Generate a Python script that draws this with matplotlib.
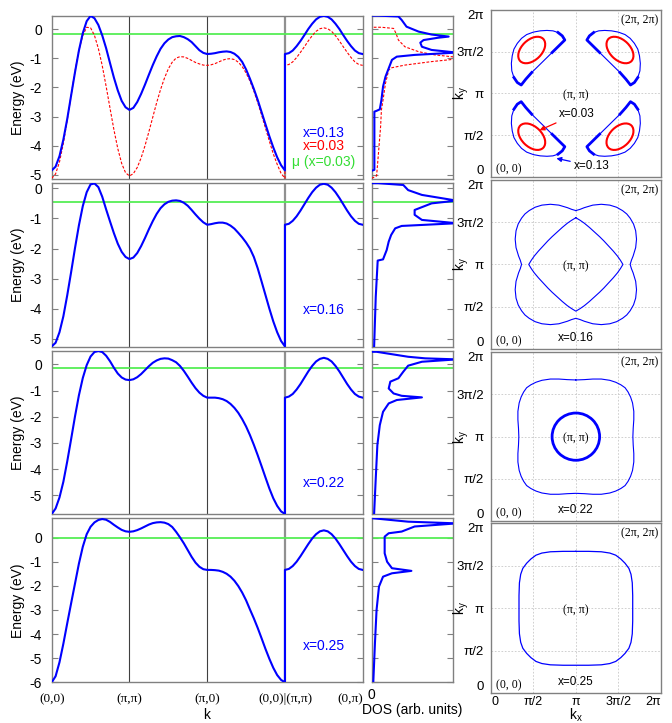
import numpy as np
import matplotlib
matplotlib.use('Agg')
import matplotlib.pyplot as plt
from matplotlib.patches import Ellipse, Circle

plt.rcParams['font.family'] = ['Liberation Sans', 'DejaVu Sans']
plt.rcParams['axes.unicode_minus'] = False
plt.rcParams['mathtext.default'] = 'regular'

SERIF = ['Liberation Serif', 'DejaVu Serif']
BLUE = '#0000ff'
RED = '#ff0000'
GREEN = '#55ee55'
FRAME = '#808080'

# ---- band structure, k path (0,0)->(pi,pi)->(pi,0)->(0,0) | (pi,pi)->(0,pi)
K_MAIN = np.round(np.arange(0, 3.0001, 0.05), 2)
K_SIDE = np.round(np.arange(3.0, 4.0001, 0.05), 2)

E013_MAIN = [-4.85, -4.72, -4.36, -3.79, -3.08, -2.27, -1.47, -0.73, -0.13, 0.28,
             0.46, 0.38, 0.15, -0.21, -0.65, -1.16, -1.66, -2.10, -2.46, -2.68,
             -2.77, -2.70, -2.50, -2.22, -1.90, -1.56, -1.23, -0.93, -0.67, -0.48,
             -0.35, -0.27, -0.24, -0.23, -0.27, -0.34, -0.44, -0.58, -0.72, -0.81,
             -0.85, -0.84, -0.82, -0.79, -0.77, -0.76, -0.78, -0.84, -0.95, -1.12,
             -1.38, -1.70, -2.05, -2.43, -2.85, -3.27, -3.68, -4.06, -4.40, -4.67,
             -4.85]
E013_SIDE = [-0.85, -0.82, -0.73, -0.58, -0.40, -0.20, 0.01, 0.19, 0.34, 0.43, 0.46,
             0.43, 0.34, 0.19, 0.01, -0.20, -0.40, -0.58, -0.73, -0.82, -0.85]

E003_MAIN = [-5.12, -4.97, -4.56, -3.92, -3.12, -2.27, -1.44, -0.72, -0.21, 0.07,
             0.05, -0.21, -0.66, -1.25, -1.96, -2.71, -3.45, -4.10, -4.61, -4.93,
             -5.04, -4.96, -4.75, -4.42, -4.00, -3.52, -3.02, -2.52, -2.07, -1.68,
             -1.36, -1.13, -0.99, -0.94, -0.95, -1.00, -1.07, -1.14, -1.19, -1.23,
             -1.24, -1.22, -1.18, -1.12, -1.06, -1.02, -1.01, -1.04, -1.13, -1.28,
             -1.50, -1.78, -2.12, -2.52, -2.95, -3.40, -3.85, -4.28, -4.64, -4.95,
             -5.12]
E003_SIDE = [-1.24, -1.21, -1.12, -0.97, -0.79, -0.60, -0.40, -0.22, -0.07, 0.02, 0.05,
             0.02, -0.07, -0.22, -0.40, -0.60, -0.79, -0.97, -1.12, -1.21, -1.24]

E016_MAIN = [-5.25, -5.13, -4.78, -4.25, -3.55, -2.78, -1.98, -1.23, -0.59, -0.13,
             0.13, 0.16, 0.04, -0.28, -0.70, -1.10, -1.49, -1.84, -2.11, -2.28,
             -2.35, -2.30, -2.15, -1.92, -1.65, -1.36, -1.09, -0.85, -0.66, -0.53,
             -0.45, -0.41, -0.40, -0.42, -0.48, -0.58, -0.72, -0.87, -1.01, -1.13,
             -1.21, -1.19, -1.16, -1.14, -1.14, -1.17, -1.24, -1.34, -1.48, -1.63,
             -1.80, -2.00, -2.28, -2.66, -3.10, -3.55, -4.00, -4.42, -4.78, -5.07,
             -5.25]
E016_SIDE = [-1.21, -1.18, -1.08, -0.93, -0.74, -0.53, -0.32, -0.13, 0.02, 0.12, 0.15,
             0.12, 0.02, -0.13, -0.32, -0.53, -0.74, -0.93, -1.08, -1.18, -1.21]

E022_MAIN = [-5.71, -5.50, -5.08, -4.48, -3.70, -2.85, -1.98, -1.18, -0.52, -0.03,
             0.30, 0.47, 0.51, 0.47, 0.33, 0.12, -0.13, -0.35, -0.50, -0.58,
             -0.60, -0.57, -0.49, -0.37, -0.22, -0.07, 0.06, 0.15, 0.21, 0.23,
             0.22, 0.16, 0.08, -0.06, -0.25, -0.47, -0.70, -0.91, -1.08, -1.20,
             -1.27, -1.27, -1.27, -1.29, -1.33, -1.40, -1.51, -1.66, -1.85, -2.09,
             -2.37, -2.70, -3.07, -3.47, -3.89, -4.32, -4.74, -5.11, -5.40, -5.61,
             -5.71]
E022_SIDE = [-1.27, -1.23, -1.13, -0.96, -0.75, -0.51, -0.27, -0.06, 0.11, 0.21, 0.25,
             0.21, 0.11, -0.06, -0.27, -0.51, -0.75, -0.96, -1.13, -1.23, -1.27]

E025_MAIN = [-6.00, -5.75, -5.17, -4.40, -3.55, -2.72, -1.90, -1.08, -0.38, 0.14,
             0.45, 0.63, 0.73, 0.77, 0.74, 0.65, 0.53, 0.42, 0.32, 0.26,
             0.24, 0.26, 0.31, 0.38, 0.46, 0.54, 0.60, 0.63, 0.64, 0.62,
             0.56, 0.44, 0.24, 0.01, -0.24, -0.52, -0.80, -1.04, -1.21, -1.31,
             -1.34, -1.34, -1.35, -1.37, -1.42, -1.50, -1.62, -1.79, -2.01, -2.28,
             -2.60, -2.98, -3.35, -3.75, -4.18, -4.62, -5.03, -5.40, -5.70, -5.90,
             -6.00]
E025_SIDE = [-1.34, -1.30, -1.18, -1.00, -0.77, -0.52, -0.27, -0.04, 0.14, 0.26, 0.30,
             0.26, 0.14, -0.04, -0.27, -0.52, -0.77, -1.00, -1.18, -1.30, -1.34]

DOPING = ['x=0.13', 'x=0.16', 'x=0.22', 'x=0.25']
MU = [-0.15, -0.44, -0.15, 0.0]
YLIMS = [(-5.155, 0.457), (-5.26, 0.186), (-5.71, 0.51), (-6.0, 0.80)]
BANDS = [(E013_MAIN, E013_SIDE), (E016_MAIN, E016_SIDE),
         (E022_MAIN, E022_SIDE), (E025_MAIN, E025_SIDE)]
K_LABELS = ['(0,0)', '(\u03c0,\u03c0)', '(\u03c0,0)', '(0,0)|(\u03c0,\u03c0)', '(0,\u03c0)']

# ---- density of states (E in eV, DOS in arb. units)
DOS013_E = [-4.86, -4.83, -2.83, -2.80, -2.75, -2.43, -1.97, -1.63, -1.34, -1.05, -0.94,
            -0.88, -0.80, -0.71, -0.60, -0.46, -0.37, -0.29, -0.25, -0.18, -0.08, 0.09,
            0.32, 0.44, 0.47, 0.47]
DOS013_D = [0.0, 0.033, 0.033, 0.062, 0.10, 0.12, 0.14, 0.17, 0.21, 0.25, 0.31,
            0.53, 1.05, 0.74, 0.62, 0.60, 0.64, 0.82, 0.95, 0.74, 0.58, 0.43,
            0.37, 0.33, 0.08, 0.0]
DOS003_E = [-5.12, -5.04, -4.72, -4.03, -3.34, -2.77, -2.43, -1.86, -1.40, -1.32, -1.23,
            -1.11, -1.02, -0.96, -0.88, -0.77, -0.60, -0.37, -0.14, 0.03, 0.07, 0.07]
DOS003_D = [0.0, 0.06, 0.07, 0.09, 0.11, 0.12, 0.14, 0.17, 0.21, 0.25, 0.41,
            0.74, 1.05, 1.05, 0.78, 0.58, 0.41, 0.33, 0.30, 0.27, 0.12, 0.0]
DOS016_E = [-5.25, -3.60, -2.40, -2.36, -2.05, -1.77, -1.55, -1.33, -1.25, -1.16, -1.05,
            -0.88, -0.72, -0.50, -0.41, -0.22, -0.06, 0.11, 0.17, 0.17]
DOS016_D = [0.03, 0.05, 0.074, 0.14, 0.185, 0.21, 0.24, 0.29, 0.37, 1.05, 0.62,
            0.53, 0.53, 0.74, 1.05, 0.62, 0.45, 0.39, 0.08, 0.0]
DOS022_E = [-5.69, -4.35, -3.08, -2.32, -1.81, -1.49, -1.36, -1.26, -1.20, -1.11, -0.92,
            -0.66, -0.53, -0.28, -0.05, 0.10, 0.19, 0.23, 0.29, 0.48, 0.48]
DOS022_D = [0.03, 0.05, 0.07, 0.10, 0.14, 0.21, 0.31, 0.62, 0.37, 0.27, 0.21,
            0.23, 0.33, 0.39, 0.45, 0.62, 1.05, 0.66, 0.45, 0.06, 0.0]
DOS025_E = [-5.97, -4.38, -3.00, -2.03, -1.62, -1.48, -1.38, -1.27, -1.00, -0.65, 0.04,
            0.18, 0.25, 0.46, 0.59, 0.66, 0.80]
DOS025_D = [0.02, 0.04, 0.06, 0.09, 0.14, 0.25, 0.49, 0.25, 0.19, 0.16, 0.16,
            0.21, 0.37, 0.53, 1.05, 0.45, 0.02]
DOS_BLUE = [(DOS013_E, DOS013_D), (DOS016_E, DOS016_D),
            (DOS022_E, DOS022_D), (DOS025_E, DOS025_D)]

# ---- Fermi surfaces, k in units of pi
# x=0.13 hole pocket around (pi/2, pi/2); the other three are its mirror images
POCKET013_X = [0.356, 0.31, 0.27, 0.245, 0.24, 0.25, 0.27, 0.31, 0.36, 0.42, 0.50,
               0.58, 0.66, 0.73, 0.79, 0.84, 0.87, 0.80, 0.72, 0.64, 0.56, 0.48,
               0.41, 0.356]
POCKET013_Y = [0.90, 0.87, 0.81, 0.73, 0.64, 0.55, 0.47, 0.40, 0.34, 0.295, 0.265,
               0.25, 0.245, 0.25, 0.27, 0.31, 0.36, 0.43, 0.51, 0.59, 0.67, 0.75,
               0.83, 0.90]
# x=0.03 pocket: centre, full axes, tilt (deg)
POCKET003 = (0.48, 0.48, 0.38, 0.24, -45)

# quadrant offsets from (pi, pi), from the ky axis round to the kx axis
FS016_INNER_DX = [0.0, 0.05, 0.10, 0.16, 0.22, 0.28, 0.33, 0.385, 0.44, 0.49, 0.525, 0.555]
FS016_INNER_DY = [0.555, 0.525, 0.49, 0.44, 0.385, 0.33, 0.28, 0.22, 0.16, 0.10, 0.05, 0.0]
FS016_OUTER_DX = [0.0, 0.05, 0.10, 0.20, 0.30, 0.40, 0.48, 0.55, 0.60, 0.64, 0.68, 0.705,
                  0.715, 0.705, 0.675, 0.655, 0.64]
FS016_OUTER_DY = [0.64, 0.655, 0.675, 0.705, 0.715, 0.705, 0.68, 0.64, 0.60, 0.55, 0.48, 0.40,
                  0.30, 0.20, 0.10, 0.05, 0.0]
FS022_INNER_R = 0.28
FS022_OUTER_DX = [0.0, 0.10, 0.20, 0.30, 0.40, 0.47, 0.53, 0.58, 0.615, 0.645, 0.668, 0.683,
                  0.683, 0.676, 0.672]
FS022_OUTER_DY = [0.672, 0.676, 0.683, 0.683, 0.668, 0.645, 0.615, 0.58, 0.53, 0.47, 0.40, 0.30,
                  0.20, 0.10, 0.0]
FS025_DX = [0.0, 0.15, 0.30, 0.40, 0.47, 0.53, 0.58, 0.625, 0.65, 0.665, 0.67, 0.67]
FS025_DY = [0.67, 0.67, 0.665, 0.65, 0.625, 0.58, 0.53, 0.47, 0.40, 0.30, 0.15, 0.0]

PI_TICKS = [0, 0.5, 1, 1.5, 2]
PI_LABELS = ['0', '\u03c0/2', '\u03c0', '3\u03c0/2', '2\u03c0']

W, H = 672, 723
fig = plt.figure(figsize=(W / 100, H / 100), dpi=100)


def add_ax(l, t, r, b):
    return fig.add_axes([l / W, 1 - b / H, (r - l) / W, (b - t) / H])


def frame(ax):
    for s in ax.spines.values():
        s.set_color(FRAME)
        s.set_linewidth(1.0)


def full_loop(dx, dy):
    dx = np.asarray(dx)
    dy = np.asarray(dy)
    x = np.concatenate([dx, dx[::-1], -dx, -dx[::-1]])
    y = np.concatenate([dy, -dy[::-1], -dy, dy[::-1]])
    return 1 + x, 1 + y


def fs_loop(ax, dx, dy, lw=0.8, thick=0.0):
    # closed contour; points close to the kx / ky axes through (pi, pi) drawn heavier
    x, y = full_loop(dx, dy)
    ax.plot(x, y, color=BLUE, lw=lw)
    if thick > 0:
        near = (np.abs(x - 1) < thick) | (np.abs(y - 1) < thick)
        ax.plot(np.ma.masked_where(~near, x), np.ma.masked_where(~near, y),
                color=BLUE, lw=2.2, solid_capstyle='round')


band_rows = [(16, 179.3), (182.7, 346.7), (351, 514), (518.3, 682.3)]
fs_rows = [(10, 176.7), (180.3, 348.6), (352.3, 521), (523.3, 693.3)]

for i in range(4):
    top, bot = band_rows[i]
    lo, hi = YLIMS[i]
    emain, eside = BANDS[i]

    # band dispersion
    ax = add_ax(51.7, top, 362.7, bot)
    frame(ax)
    for kv in (1, 2):
        ax.axvline(kv, color='#404040', lw=0.8, zorder=1)
    ax.axvline(3, color='#909090', lw=1.6, zorder=1)
    ax.axhline(MU[i], color=GREEN, lw=1.3, zorder=2)
    kk = np.concatenate([K_MAIN, K_SIDE])
    if i == 0:
        ax.plot(kk, np.concatenate([E003_MAIN, E003_SIDE]), color=RED, lw=0.8,
                dashes=(2.5, 1.5), zorder=3)
    ax.plot(kk, np.concatenate([emain, eside]), color=BLUE, lw=1.5, zorder=4)
    ax.set_xlim(0, 4)
    ax.set_ylim(lo, hi)
    ax.set_yticks(np.arange(np.ceil(lo), 0.5, 1))
    ax.yaxis.set_major_formatter(plt.FuncFormatter(lambda v, p: '%d' % v))
    ax.tick_params(axis='y', direction='in', length=4, color=FRAME, right=True,
                   labelsize=10, pad=7)
    ax.set_xticks([0, 1, 2, 3, 4])
    ax.tick_params(axis='x', length=0)
    ax.set_ylabel('Energy (eV)', fontsize=10)
    ax.yaxis.set_label_coords(-0.085, 0.5)
    if i == 3:
        ax.set_xticklabels(K_LABELS, family=SERIF, fontsize=9.5)
        lab = ax.get_xticklabels()
        lab[4].set_horizontalalignment('right')
        ax.tick_params(axis='x', pad=8)
    else:
        ax.set_xticklabels([])
    if i == 0:
        ax.text(3.5, -3.55, 'x=0.13', color=BLUE, fontsize=10, ha='center', va='center')
        ax.text(3.5, -4.02, 'x=0.03', color=RED, fontsize=10, ha='center', va='center')
        ax.text(3.5, -4.55, '\u03bc (x=0.03)', color='#33dd33', fontsize=10,
                ha='center', va='center')
    else:
        ty = [None, -4.04, -4.54, -4.48][i]
        ax.text(3.5, ty, DOPING[i], color=BLUE, fontsize=10, ha='center', va='center')

    # density of states
    ad = add_ax(371.7, top, 452.7, bot)
    frame(ad)
    ad.axhline(MU[i], color=GREEN, lw=1.3, zorder=2)
    if i == 0:
        ad.plot(DOS003_D, DOS003_E, color=RED, lw=0.8, dashes=(2.5, 1.5), zorder=3)
    de, dd = DOS_BLUE[i]
    ad.plot(dd, de, color=BLUE, lw=1.5, zorder=4)
    ad.set_xlim(0, 1)
    ad.set_ylim(lo, hi)
    ad.set_yticks(np.arange(np.ceil(lo), 0.5, 1))
    ad.tick_params(axis='y', direction='in', length=4, color=FRAME, right=True,
                   labelleft=False)
    ad.set_xticks([0])
    ad.tick_params(axis='x', length=0, labelsize=10, pad=4)
    if i != 3:
        ad.set_xticklabels([])

    # Fermi surface
    ftop, fbot = fs_rows[i]
    af = add_ax(491, ftop, 660.7, fbot)
    frame(af)
    af.set_xlim(0, 2)
    af.set_ylim(0, 2)
    for g in (0.5, 1, 1.5):
        af.axvline(g, color='#c8c8c8', lw=0.6, ls=(0, (2, 2)), zorder=0)
        af.axhline(g, color='#c8c8c8', lw=0.6, ls=(0, (2, 2)), zorder=0)
    af.set_yticks(PI_TICKS)
    af.set_yticklabels(PI_LABELS)
    af.set_xticks(PI_TICKS)
    af.tick_params(axis='y', length=0, labelsize=9.5, pad=5)
    af.tick_params(axis='x', length=0, labelsize=9, pad=2)
    ylabs = af.get_yticklabels()
    ylabs[0].set_verticalalignment('bottom')
    ylabs[-1].set_verticalalignment('top')
    af.set_ylabel('$k_y$', fontsize=10)
    af.yaxis.set_label_coords(-0.115, 0.5)
    if i == 3:
        af.set_xticklabels(PI_LABELS)
        xlabs = af.get_xticklabels()
        xlabs[0].set_horizontalalignment('left')
        xlabs[-1].set_horizontalalignment('right')
    else:
        af.set_xticklabels([])
    af.text(0.06, 0.09, '(0, 0)', family=SERIF, fontsize=8.5, ha='left', va='center')
    af.text(1.97, 1.88, '(2\u03c0, 2\u03c0)', family=SERIF, fontsize=8.5, ha='right', va='center')
    af.text(1.0, 0.98, '(\u03c0, \u03c0)', family=SERIF, fontsize=8.5, ha='center', va='center')

    if i == 0:
        px = np.asarray(POCKET013_X)
        py = np.asarray(POCKET013_Y)
        cx, cy, ew, eh, ang = POCKET003
        for sx in (1, -1):
            for sy in (1, -1):
                mx = 1 + sx * (px - 1)
                my = 1 + sy * (py - 1)
                af.plot(mx, my, color=BLUE, lw=0.8)
                # heavier ends of the pocket
                af.plot(np.r_[mx[-3:], mx[1:3]], np.r_[my[-3:], my[1:3]], color=BLUE, lw=2.0)
                af.plot(mx[14:19], my[14:19], color=BLUE, lw=2.0)
                af.add_patch(Ellipse((1 + sx * (cx - 1), 1 + sy * (cy - 1)), ew, eh,
                                     angle=ang * sx * sy, fill=False, ec=RED, lw=1.5))
        af.annotate('x=0.03', xy=(0.573, 0.558), xytext=(0.805, 0.757), fontsize=8.5,
                    ha='left', va='center',
                    arrowprops=dict(arrowstyle='-|>', color=RED, lw=0.9,
                                    mutation_scale=7, shrinkA=1, shrinkB=0))
        af.annotate('x=0.13', xy=(0.771, 0.22), xytext=(0.982, 0.128), fontsize=8.5,
                    ha='left', va='center',
                    arrowprops=dict(arrowstyle='-|>', color=BLUE, lw=0.9,
                                    mutation_scale=7, shrinkA=1, shrinkB=0))
    else:
        af.text(1.0, 0.13, DOPING[i], fontsize=8.5, ha='center', va='center')
    if i == 1:
        fs_loop(af, FS016_INNER_DX, FS016_INNER_DY, thick=0.04)
        fs_loop(af, FS016_OUTER_DX, FS016_OUTER_DY, thick=0.04)
    if i == 2:
        af.add_patch(Circle((1, 1), FS022_INNER_R, fill=False, ec=BLUE, lw=2.0))
        fs_loop(af, FS022_OUTER_DX, FS022_OUTER_DY)
    if i == 3:
        fs_loop(af, FS025_DX, FS025_DY, lw=0.9)

# axis titles under the bottom row
fig.text(207 / W, 1 - 719 / H, 'k', fontsize=10, ha='center', va='baseline')
fig.text(412 / W, 1 - 714 / H, 'DOS (arb. units)', fontsize=10, ha='center', va='baseline')
fig.text(576 / W, 1 - 720 / H, '$k_x$', fontsize=10, ha='center', va='baseline')

fig.savefig('out.png', dpi=100)
